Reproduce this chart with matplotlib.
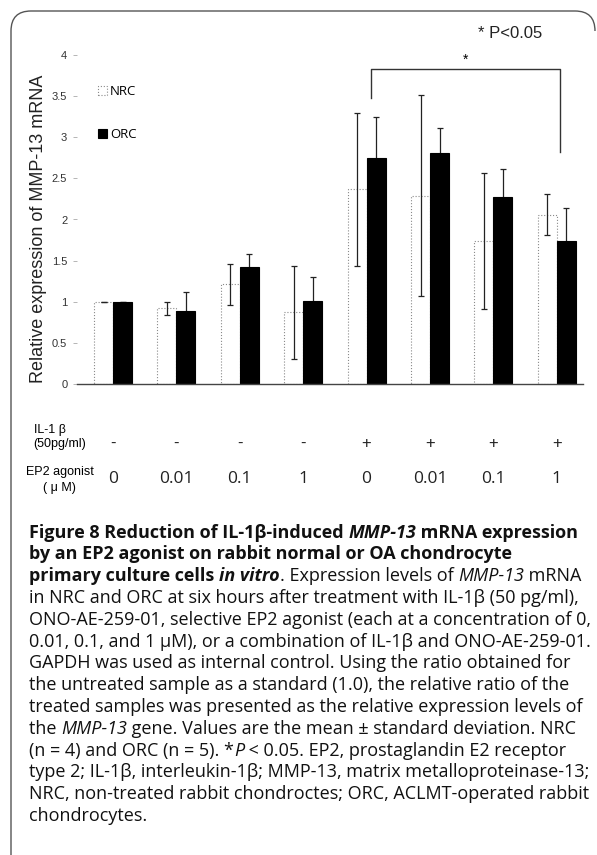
import matplotlib
matplotlib.use('Agg')
import matplotlib.pyplot as plt
from matplotlib.transforms import blended_transform_factory
from matplotlib.path import Path
from matplotlib.patches import PathPatch

W, H = 597, 855

# ---- data ----
groups = list(range(8))
il1_labels = ['-', '-', '-', '-', '+', '+', '+', '+']
ep2_labels = ['0', '0.01', '0.1', '1', '0', '0.01', '0.1', '1']
nrc_mean = [1.00, 0.92, 1.21, 0.87, 2.37, 2.29, 1.74, 2.06]
nrc_sd = [0.00, 0.08, 0.25, 0.56, 0.93, 1.22, 0.83, 0.25]
orc_mean = [1.00, 0.89, 1.42, 1.01, 2.75, 2.81, 2.27, 1.74]
orc_sd = [0.00, 0.23, 0.16, 0.29, 0.50, 0.30, 0.35, 0.40]
yticks = [0, 0.5, 1, 1.5, 2, 2.5, 3, 3.5, 4]
ytick_labels = ['0', '0.5', '1', '1.5', '2', '2.5', '3', '3.5', '4']

# significance bracket (group 5 ORC vs group 8)
bracket_x = [4.07, 7.05]
bracket_y = [3.48, 3.83, 2.82]

caption = [
    [("Figure 8 Reduction of IL-1β-induced ", 'b'), ("MMP-13", 'bi'), (" mRNA expression", 'b')],
    [("by an EP2 agonist on rabbit normal or OA chondrocyte", 'b')],
    [("primary culture cells ", 'b'), ("in vitro", 'bi'), (". Expression levels of ", ''),
     ("MMP-13", 'i'), (" mRNA", '')],
    [("in NRC and ORC at six hours after treatment with IL-1β (50 pg/ml),", '')],
    [("ONO-AE-259-01, selective EP2 agonist (each at a concentration of 0,", '')],
    [("0.01, 0.1, and 1 μM), or a combination of IL-1β and ONO-AE-259-01.", '')],
    [("GAPDH was used as internal control. Using the ratio obtained for", '')],
    [("the untreated sample as a standard (1.0), the relative ratio of the", '')],
    [("treated samples was presented as the relative expression levels of", '')],
    [("the ", ''), ("MMP-13", 'i'), (" gene. Values are the mean ± standard deviation. NRC", '')],
    [("(n = 4) and ORC (n = 5). *", ''), ("P", 'i'), (" < 0.05. EP2, prostaglandin E2 receptor", '')],
    [("type 2; IL-1β, interleukin-1β; MMP-13, matrix metalloproteinase-13;", '')],
    [("NRC, non-treated rabbit chondroctes; ORC, ACLMT-operated rabbit", '')],
    [("chondrocytes.", '')],
]


def fx(px):
    return px / W


def fy(py):
    return 1 - py / H


fig = plt.figure(figsize=(W / 100, H / 100), dpi=100)
fig.patch.set_facecolor('white')

# ---- rounded frame (left side + top, both top corners) ----
r = 20
verts = [(fx(11), fy(H)), (fx(11), fy(11 + r)), (fx(11), fy(11)), (fx(11 + r), fy(11)),
         (fx(W - 2 - r), fy(11)), (fx(W - 2), fy(11)), (fx(W - 2), fy(11 + r))]
codes = [Path.MOVETO, Path.LINETO, Path.CURVE3, Path.CURVE3, Path.LINETO, Path.CURVE3, Path.CURVE3]
fig.add_artist(PathPatch(Path(verts, codes), transform=fig.transFigure,
                         facecolor='none', edgecolor='#555555', lw=1.0))

# ---- bar chart ----
ax = fig.add_axes([fx(77), fy(384), (583 - 77) / W, (384 - 55) / H])
w = 0.30
xn = [g - w / 2 for g in groups]
xo = [g + w / 2 for g in groups]
nrc_bars = ax.bar(xn, nrc_mean, w, color='white', edgecolor='#8a8a8a', lw=0.8,
                  linestyle=':', label='NRC', zorder=2)
orc_bars = ax.bar(xo, orc_mean, w, color='black', edgecolor='black', lw=0.8,
                  label='ORC', zorder=2)
ax.errorbar(xn, nrc_mean, yerr=nrc_sd, fmt='none', ecolor='#222222', elinewidth=0.9,
            capsize=2, capthick=0.9, zorder=3)
ax.errorbar(xo, orc_mean, yerr=orc_sd, fmt='none', ecolor='#222222', elinewidth=0.9,
            capsize=2, capthick=0.9, zorder=1)

ax.set_xlim(-0.568, 7.413)
ax.set_ylim(0, 4)
ax.set_yticks(yticks)
ax.set_yticklabels(ytick_labels, fontsize=8, color='#333333', family='Liberation Sans')
ax.set_xticks([])
for s in ['top', 'right', 'left']:
    ax.spines[s].set_visible(False)
ax.spines['bottom'].set_color('#444444')
ax.spines['bottom'].set_linewidth(1.0)
ax.tick_params(axis='y', length=3, color='#aaaaaa', width=0.6, pad=4)
ax.patch.set_alpha(0)

# significance bracket
ax.plot([bracket_x[0], bracket_x[0], bracket_x[1], bracket_x[1]],
        [bracket_y[0], bracket_y[1], bracket_y[1], bracket_y[2]],
        color='#333333', lw=1.0, clip_on=False)
ax.text(sum(bracket_x) / 2, bracket_y[1] + 0.03, '*', ha='center', va='bottom',
        fontsize=10, family='Liberation Sans')

fig.text(fx(478), fy(33), '* P<0.05', fontsize=12, family='Liberation Sans',
         ha='left', va='center', color='#222222')

fig.text(fx(39), fy(229), 'Relative expression of MMP-13 mRNA', rotation=90,
         fontsize=13, family='Liberation Sans', ha='center', va='center', color='#222222')

ax.legend(handles=[nrc_bars, orc_bars], loc='upper left', frameon=False,
          bbox_to_anchor=(fx(98), fy(85)), bbox_transform=fig.transFigure,
          prop={'family': 'Open Sans', 'size': 9.5}, handlelength=0.65, handleheight=0.65,
          handletextpad=0.25, labelspacing=2.3, borderpad=0, borderaxespad=0)

# ---- treatment rows under the axis ----
tr = blended_transform_factory(ax.transData, fig.transFigure)
for g, a, b in zip(groups, il1_labels, ep2_labels):
    ax.text(g, fy(443), a, transform=tr, ha='center', va='center', fontsize=12,
            family='Liberation Sans', color='#222222')
    ax.text(g, fy(479), b, transform=tr, ha='center', va='center', fontsize=12.5,
            family='Open Sans', color='#222222')
fig.text(fx(50), fy(430), 'IL-1 β', fontsize=9, family='Liberation Sans', ha='center', va='center')
fig.text(fx(60), fy(444), '(50pg/ml)', fontsize=9, family='Liberation Sans', ha='center', va='center')
fig.text(fx(60), fy(472), 'EP2 agonist', fontsize=9, family='Liberation Sans', ha='center', va='center')
fig.text(fx(59), fy(488), '( μ M)', fontsize=9, family='Liberation Sans', ha='center', va='center')

# ---- caption with mixed bold / italic runs ----
renderer = fig.canvas.get_renderer()
cap_font = 'Open Sans'
cap_size = 13


def run_width(s, **kw):
    p = fig.text(0, 0, s + '|', **kw)
    q = fig.text(0, 0, '|', **kw)
    wdt = p.get_window_extent(renderer).width - q.get_window_extent(renderer).width
    p.remove()
    q.remove()
    return wdt


for i, line in enumerate(caption):
    x = 29
    y = 532 + 21.8 * i + 5.5
    for s, st in line:
        kw = dict(fontsize=cap_size, family=cap_font,
                  fontweight='bold' if 'b' in st else 'normal',
                  fontstyle='italic' if 'i' in st else 'normal',
                  color='#111111')
        fig.text(fx(x), fy(y), s, ha='left', va='baseline', **kw)
        x += run_width(s, **kw)

fig.savefig('out.png', dpi=100)
